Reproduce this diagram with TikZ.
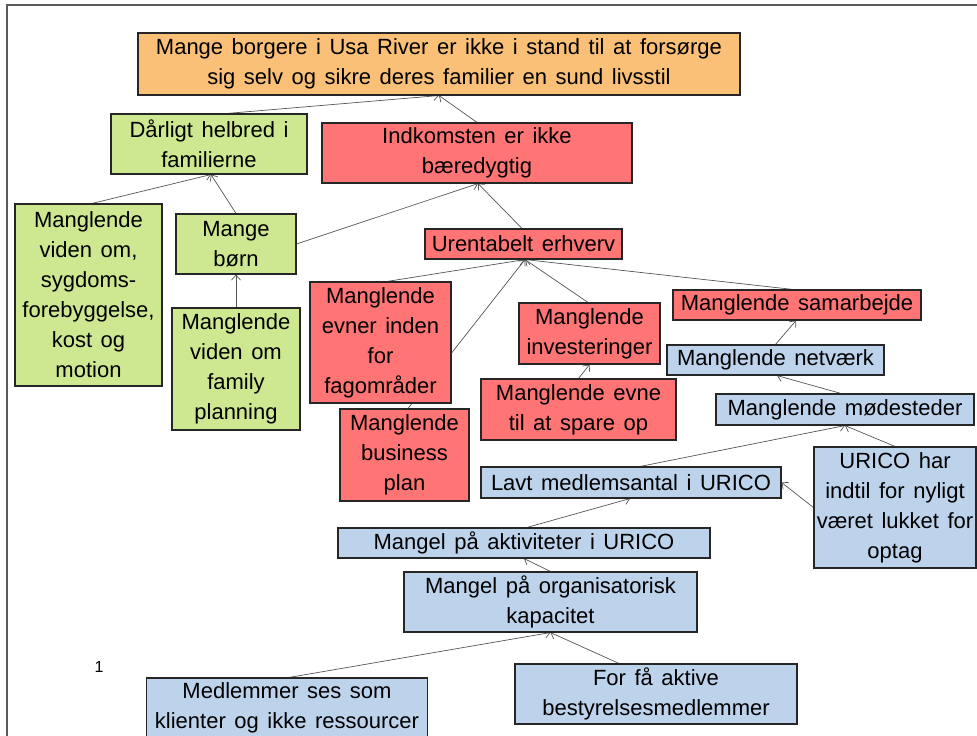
\documentclass[tikz,border=0pt]{standalone}
\usepackage{fontspec}
\setmainfont{Liberation Sans}[WordSpace=1.4]
\usetikzlibrary{arrows.meta,backgrounds}
\definecolor{corange}{HTML}{FAC078}
\definecolor{cgreen}{HTML}{CDE891}
\definecolor{cred}{HTML}{FF7474}
\definecolor{cblue}{HTML}{BDD3EB}
\definecolor{cframe}{HTML}{5A5A5A}
\definecolor{cline}{HTML}{555555}
\begin{document}
\begin{tikzpicture}[x=1pt,y=-1pt,
  box/.style={draw=black!85,line width=1.1pt,inner sep=0pt,align=center,
    font=\fontsize{22}{30}\selectfont},
  ob/.style={box,fill=corange},
  gb/.style={box,fill=cgreen},
  rb/.style={box,fill=cred},
  bb/.style={box,fill=cblue},
  arr/.style={draw=cline,line width=0.7pt,-{Straight Barb[length=5pt,width=9pt]}},
  frameline/.style={draw=cframe,line width=1.6pt}]
\useasboundingbox (0,0) rectangle (977,736);
\clip (0,0) rectangle (977,736);
\draw[frameline] (7,736) -- (7,5) -- (977,5);

\node[ob,minimum width=602,minimum height=62] (top) at (439,64)
  {Mange borgere i Usa River er ikke i stand til at forsørge\\sig selv og sikre deres familier en sund livsstil};
\node[gb,minimum width=196,minimum height=60] (dar) at (209,144) {Dårligt helbred i\\familierne};
\node[rb,minimum width=310,minimum height=60] (ind) at (477,153) {Indkomsten er ikke\\bæredygtig};
\node[gb,minimum width=147,minimum height=182] (vid) at (88.5,295)
  {Manglende\\viden om,\\sygdoms-\\forebyggelse,\\kost og\\motion};
\node[gb,minimum width=120,minimum height=60] (boern) at (236,244) {Mange\\børn};
\node[rb,minimum width=197,minimum height=30] (uren) at (523.5,244) {Urentabelt erhverv};
\node[gb,minimum width=128,minimum height=122] (fam) at (236,369)
  {Manglende\\viden om\\family\\planning};
\node[rb,minimum width=129,minimum height=92] (bus) at (404.5,455) {Manglende\\business\\plan};
\node[rb,minimum width=141,minimum height=121] (evner) at (380.5,342.5)
  {Manglende\\evner inden\\for\\fagområder};
\node[rb,minimum width=141,minimum height=61] (inv) at (589.5,333.5) {Manglende\\investeringer};
\node[rb,minimum width=248,minimum height=30] (sam) at (797,305) {Manglende samarbejde};
\node[bb,minimum width=217,minimum height=30] (net) at (775.5,360) {Manglende netværk};
\node[rb,minimum width=195,minimum height=61] (spare) at (578.5,409.5) {Manglende evne\\til at spare op};
\node[bb,minimum width=258,minimum height=31] (moed) at (845,409.5) {Manglende mødesteder};
\node[bb,minimum width=162,minimum height=121] (urico) at (895,507.5)
  {URICO har\\indtil for nyligt\\været lukket for\\optag};
\node[bb,minimum width=300,minimum height=31] (lavt) at (631,482.5) {Lavt medlemsantal i URICO};
\node[bb,minimum width=372,minimum height=30] (akt) at (524,543) {Mangel på aktiviteter i URICO};
\node[bb,minimum width=293,minimum height=60] (org) at (550.5,602) {Mangel på organisatorisk\\kapacitet};
\node[bb,minimum width=281,minimum height=60] (medl) at (287,708) {Medlemmer ses som\\klienter og ikke ressourcer};
\node[bb,minimum width=282,minimum height=60] (fofa) at (656,694) {For få aktive\\bestyrelsesmedlemmer};
\node[font=\fontsize{16}{18}\selectfont,inner sep=0pt] (num) at (99,667) {1};

\begin{pgfonlayer}{background}
\draw[arr] ([xshift=18]dar.north) -- (top.south);
\draw[arr] (ind.north) -- (top.south);
\draw[arr] ([xshift=3.5]vid.north) -- ([xshift=2]dar.south);
\draw[arr] (boern.north) -- ([xshift=2]dar.south);
\draw[arr] (boern.east) -- ([xshift=1]ind.south);
\draw[arr] ([xshift=-1.5]uren.north) -- ([xshift=1]ind.south);
\draw[arr] (fam.north) -- (boern.south);
\draw[arr] ([xshift=6.5]evner.north) -- ([xshift=1.5]uren.south);
\draw[arr] ([xshift=3.5]bus.north) -- ([xshift=1.5]uren.south);
\draw[arr] ([xshift=-1.5]inv.north) -- ([xshift=1.5]uren.south);
\draw[arr] ([xshift=-4]sam.north) -- ([xshift=1.5]uren.south);
\draw[arr] (spare.north) -- (inv.south);
\draw[arr] (net.north) -- ([xshift=-1]sam.south);
\draw[arr] ([xshift=-4]moed.north) -- ([xshift=1.5]net.south);
\draw[arr] ([xshift=9]lavt.north) -- (moed.south);
\draw[arr] (urico.north) -- (moed.south);
\draw[arr] (urico.west) -- (lavt.east);
\draw[arr] ([xshift=3]akt.north) -- ([xshift=-1]lavt.south);
\draw[arr] (org.north) -- (akt.south);
\draw[arr] ([xshift=2]medl.north) -- (org.south);
\draw[arr] ([xshift=-37]fofa.north) -- (org.south);
\end{pgfonlayer}
\end{tikzpicture}
\end{document}
